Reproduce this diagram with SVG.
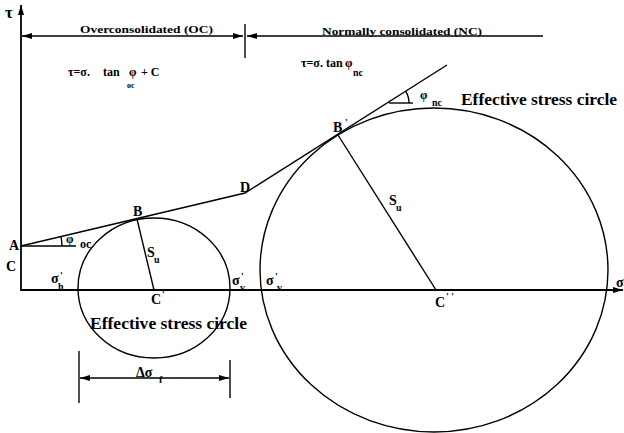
<svg xmlns="http://www.w3.org/2000/svg" width="624" height="433" viewBox="0 0 624 433">
<style>
.ln{fill:none;stroke:#000;stroke-width:1.4}
.ax{fill:none;stroke:#000;stroke-width:1.8}
.t{font-family:"Liberation Serif","Times New Roman","DejaVu Serif",serif;font-weight:bold;fill:#000}
.lb{font-size:14px}
.sm{font-size:10px}
.fm{font-size:12px}
.hd{font-size:11px}
.big{font-size:17px}
</style>
<defs>
<marker id="ah" viewBox="0 0 10 6" refX="10" refY="3" markerWidth="10" markerHeight="6" markerUnits="userSpaceOnUse" orient="auto-start-reverse">
<path d="M0,0 L10,3 L0,6 z" fill="#000"/>
</marker>
</defs>
<rect width="624" height="433" fill="#fff"/>

<g id="axes">
<line class="ax" x1="21" y1="291" x2="21" y2="5" marker-end="url(#ah)"/>
<line class="ax" x1="21" y1="290" x2="623" y2="290" marker-end="url(#ah)"/>
<text class="t" x="5" y="18" style="font-size:17px">τ</text>
<text class="t lb" x="616" y="287">σ</text>
</g>

<g id="header">
<line class="ln" x1="22" y1="36" x2="243" y2="36" marker-start="url(#ah)" marker-end="url(#ah)"/>
<line class="ln" x1="245" y1="24" x2="245" y2="58"/>
<line class="ln" x1="247" y1="36" x2="543" y2="36" marker-start="url(#ah)"/>
<text class="t hd" x="80" y="33" textLength="133" lengthAdjust="spacingAndGlyphs">Overconsolidated  (OC)</text>
<text class="t hd" x="322" y="35" textLength="160" lengthAdjust="spacingAndGlyphs">Normally consolidated  (NC)</text>
</g>

<g id="formulas">
<text class="t fm" x="68" y="76">τ=σ.</text>
<text class="t fm" x="103" y="76">tan</text>
<text class="t fm" x="129" y="76">φ</text>
<text class="t fm" x="141" y="76">+ C</text>
<text class="t" x="127" y="88" style="font-size:8px">oc</text>
<text class="t fm" x="301" y="67">τ=σ.</text>
<text class="t fm" x="326" y="67">tan</text>
<text class="t fm" x="345" y="67">φ</text>
<text class="t" x="353" y="76" style="font-size:10px">nc</text>
</g>

<g id="envelope">
<path class="ln" d="M21,246 L245,193 L447,65"/>
<line class="ln" x1="21" y1="246" x2="76" y2="246"/>
<path class="ln" d="M62,246 A41,41 0 0 0 60.9,236.6"/>
<line class="ln" x1="389" y1="103" x2="413" y2="103"/>
<path class="ln" d="M409,103 A22,22 0 0 0 405.6,91.2"/>
<text class="t fm" x="66" y="243">φ</text>
<text class="t fm" x="80" y="248">oc</text>
<text class="t fm" x="420" y="99">φ</text>
<text class="t" x="432" y="106" style="font-size:10px">nc</text>
</g>

<g id="circle-oc">
<ellipse class="ln" cx="154" cy="288" rx="76" ry="70"/>
<line class="ln" x1="137" y1="219" x2="154" y2="290"/>
<text class="t big" x="90" y="329" textLength="157" lengthAdjust="spacingAndGlyphs">Effective stress circle</text>
</g>

<g id="circle-nc">
<ellipse class="ln" cx="434" cy="270" rx="174" ry="162"/>
<line class="ln" x1="338" y1="135" x2="436" y2="290"/>
<text class="t big" x="461" y="105" textLength="156" lengthAdjust="spacingAndGlyphs">Effective stress circle</text>
</g>

<g id="labels">
<text class="t lb" x="9" y="250">A</text>
<text class="t lb" x="6" y="271">C</text>
<text class="t lb" x="133" y="216">B</text>
<text class="t lb" x="240" y="192">D</text>
<text class="t lb" x="333" y="132">B</text>
<text class="t sm" x="345" y="126">'</text>
<text class="t lb" x="147" y="257">S</text>
<text class="t sm" x="154" y="263">u</text>
<text class="t lb" x="389" y="205">S</text>
<text class="t sm" x="396" y="211">u</text>
<text class="t lb" x="51" y="283">σ</text>
<text class="t sm" x="60" y="279">'</text>
<text class="t sm" x="58" y="290">h</text>
<text class="t lb" x="232" y="285">σ</text>
<text class="t sm" x="241" y="280">'</text>
<text class="t sm" x="240" y="291">v</text>
<text class="t lb" x="266" y="285">σ</text>
<text class="t sm" x="275" y="280">'</text>
<text class="t sm" x="277" y="291">v</text>
<text class="t lb" x="151" y="304">C</text>
<text class="t sm" x="162" y="298">'</text>
<text class="t lb" x="435" y="307">C</text>
<text class="t sm" x="446" y="300">' '</text>
</g>

<g id="delta">
<line class="ln" x1="79" y1="351" x2="79" y2="403"/>
<line class="ln" x1="230" y1="360" x2="230" y2="398"/>
<line class="ln" x1="80" y1="378" x2="229" y2="378" stroke-width="1.8" marker-start="url(#ah)" marker-end="url(#ah)"/>
<text class="t lb" x="136" y="377">Δσ</text>
<text class="t sm" x="159" y="383">f</text>
</g>
</svg>
